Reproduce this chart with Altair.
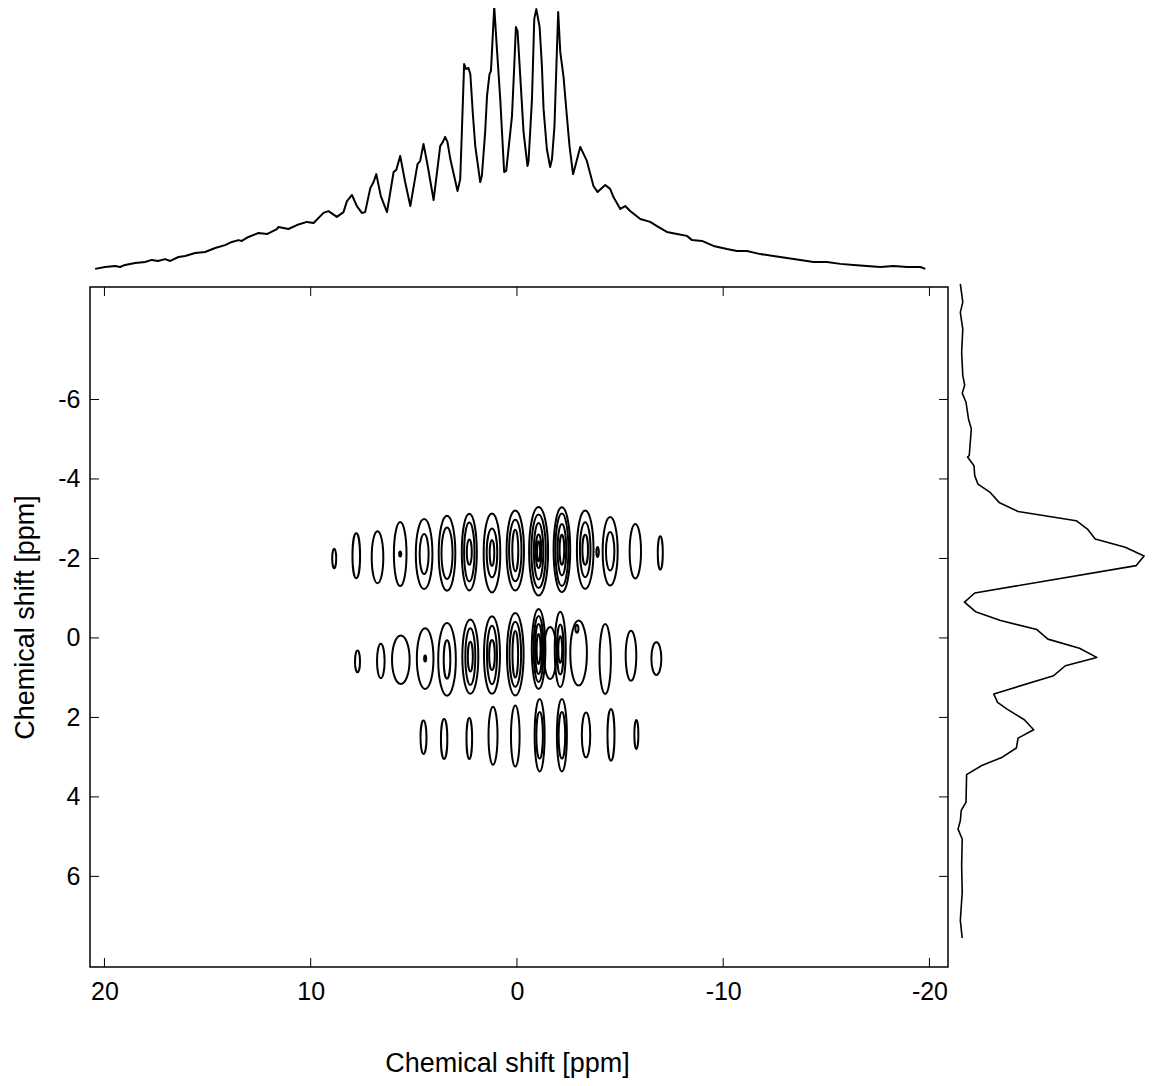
import altair as alt
import pandas as pd

# ---------------- data ----------------
# top projection (chemical shift in ppm, relative intensity)
top_ppm = [20.45, 19.97, 19.48, 19.24, 19.00, 18.51, 18.03, 17.70, 17.40, 17.06,
           16.81, 16.41, 16.09, 15.60, 15.12, 14.63, 14.15, 13.82, 13.50, 13.34,
           13.02, 12.53, 12.12, 11.64, 11.56, 11.08, 10.67, 10.18, 9.86, 9.38,
           9.14, 8.73, 8.41, 8.24, 8.00, 7.76, 7.52, 7.36, 7.11, 6.95,
           6.82, 6.60, 6.30, 5.98, 5.85, 5.66, 5.42, 5.17, 4.82, 4.69,
           4.53, 4.36, 4.04, 3.72, 3.59, 3.48, 3.37, 3.23, 2.88, 2.75,
           2.67, 2.56, 2.46, 2.35, 2.26, 2.13, 2.02, 1.78, 1.70, 1.54,
           1.45, 1.33, 1.26, 1.10, 0.97, 0.81, 0.68, 0.62, 0.52, 0.24,
           0.13, 0.05, -0.03, -0.16, -0.32, -0.51, -0.56, -0.73, -0.84, -0.94,
           -1.10, -1.21, -1.29, -1.45, -1.61, -1.70, -1.82, -1.94, -2.00, -2.10,
           -2.26, -2.42, -2.55, -2.72, -2.83, -3.07, -3.39, -3.71, -3.91, -4.28,
           -4.52, -4.68, -5.01, -5.25, -5.49, -5.98, -6.46, -6.79, -7.27, -7.76,
           -8.24, -8.49, -8.97, -9.53, -10.18, -10.67, -11.15, -11.80, -12.44, -13.09,
           -13.74, -14.38, -15.03, -15.68, -16.32, -16.97, -17.62, -18.26, -18.91, -19.56,
           -19.80]
top_int = [0.8, 1.5, 1.9, 1.5, 2.3, 3.0, 3.4, 4.2, 3.8, 4.5,
           3.8, 5.3, 5.7, 6.8, 7.2, 8.7, 9.8, 11.0, 11.7, 11.4,
           12.9, 14.4, 14.0, 15.9, 16.7, 15.9, 17.4, 18.6, 18.2, 22.0,
           22.7, 20.5, 22.3, 26.5, 28.8, 24.6, 22.0, 22.3, 31.4, 33.7,
           36.7, 28.4, 22.3, 37.5, 38.3, 43.6, 33.7, 24.6, 40.5, 41.7,
           48.1, 41.3, 26.9, 47.3, 48.9, 50.8, 48.9, 42.4, 30.3, 34.8,
           52.7, 78.4, 76.5, 76.9, 74.6, 58.7, 47.3, 33.7, 36.0, 52.7,
           66.3, 74.6, 75.8, 100.0, 84.1, 65.2, 46.2, 37.5, 37.9, 58.7,
           77.7, 92.4, 90.9, 73.9, 52.7, 39.8, 41.3, 65.2, 95.5, 99.2,
           92.4, 77.7, 61.4, 46.2, 39.4, 42.4, 54.9, 84.1, 98.1, 83.0,
           73.5, 58.7, 47.3, 36.7, 39.8, 47.0, 41.7, 32.2, 29.9, 32.6,
           31.1, 28.0, 23.5, 24.6, 22.7, 19.7, 18.6, 17.0, 14.8, 14.0,
           13.3, 11.7, 11.4, 9.5, 8.3, 7.6, 7.6, 6.4, 5.7, 4.9,
           4.2, 3.4, 3.4, 2.7, 2.3, 1.9, 1.5, 1.9, 1.5, 1.5,
           0.8]

# right projection (chemical shift in ppm, relative intensity)
side_ppm = [-8.91, -8.45, -8.19, -7.77, -7.19, -6.60, -6.36, -6.16, -5.93, -5.51,
            -5.26, -4.59, -4.55, -4.33, -4.08, -3.87, -3.67, -3.41, -3.18, -2.95,
            -2.74, -2.49, -2.28, -2.06, -1.82, -1.13, -0.90, -0.66, -0.44, -0.21,
            0.03, 0.26, 0.49, 0.70, 0.95, 1.41, 1.62, 1.79, 2.06, 2.31,
            2.52, 2.77, 3.00, 3.21, 3.44, 4.13, 4.34, 4.60, 4.81, 5.06,
            5.73, 6.40, 7.11, 7.55]
side_int = [2.8, 4.1, 2.8, 4.1, 3.5, 4.1, 5.1, 3.8, 5.8, 7.1,
            8.6, 7.5, 6.6, 10.0, 10.4, 12.1, 18.3, 23.2, 33.2, 63.8,
            69.7, 73.8, 89.6, 99.5, 95.4, 10.4, 5.0, 10.8, 24.0, 43.1,
            48.9, 65.5, 74.6, 58.1, 51.9, 20.4, 22.4, 27.4, 36.5, 41.4,
            33.2, 32.3, 24.9, 14.1, 6.1, 5.8, 3.3, 2.8, 1.6, 3.8,
            3.5, 3.8, 2.8, 3.8]

# contour lines: centre (ppm, ppm) and half-width / half-height (ppm)
cont_x = [8.86, 7.79, 6.76, 5.66, 5.66, 4.50, 4.50, 3.39, 3.39, 2.31, 2.31, 2.31,
          1.21, 1.21, 1.21, 0.08, 0.08, 0.08, -1.05, -1.05, -1.05, -1.05, -1.05,
          -2.18, -2.18, -2.18, -2.18, -3.31, -3.31, -3.31, -3.91, -4.52, -4.52, -5.74, -6.95,
          7.73, 6.60, 5.63, 4.45, 4.45, 3.39, 3.39, 2.26, 2.26, 2.26, 1.21, 1.21, 1.21,
          0.08, 0.08, 0.08, -1.05, -1.05, -1.05, -1.05, -1.61, -2.10, -2.10, -2.10,
          -2.99, -2.91, -4.28, -5.53, -6.76,
          4.53, 3.53, 2.31, 1.16, 0.08, -1.10, -1.10, -2.18, -2.18, -3.35, -4.56, -5.79]
cont_y = [-2.00, -2.07, -2.03, -2.11, -2.11, -2.11, -2.11, -2.13, -2.13, -2.16, -2.16, -2.16,
          -2.14, -2.14, -2.14, -2.20, -2.20, -2.20, -2.18, -2.18, -2.18, -2.18, -2.18,
          -2.22, -2.22, -2.22, -2.22, -2.22, -2.22, -2.22, -2.16, -2.18, -2.18, -2.18, -2.14,
          0.59, 0.58, 0.55, 0.52, 0.52, 0.54, 0.54, 0.47, 0.47, 0.47, 0.43, 0.43, 0.43,
          0.41, 0.41, 0.41, 0.28, 0.28, 0.28, 0.28, 0.38, 0.29, 0.29, 0.29,
          0.38, -0.23, 0.53, 0.45, 0.52,
          2.50, 2.54, 2.53, 2.46, 2.47, 2.45, 2.45, 2.45, 2.45, 2.44, 2.44, 2.43]
cont_hw = [0.097, 0.184, 0.281, 0.306, 0.05, 0.403, 0.218, 0.403, 0.267, 0.364, 0.252, 0.121,
           0.403, 0.257, 0.112, 0.422, 0.301, 0.145, 0.461, 0.349, 0.228, 0.136, 0.073,
           0.403, 0.315, 0.209, 0.112, 0.403, 0.257, 0.136, 0.058, 0.364, 0.204, 0.276, 0.121,
           0.121, 0.184, 0.427, 0.403, 0.05, 0.427, 0.160, 0.388, 0.242, 0.121, 0.388, 0.242, 0.136,
           0.403, 0.281, 0.136, 0.330, 0.242, 0.170, 0.097, 0.306, 0.267, 0.160, 0.097,
           0.403, 0.073, 0.276, 0.257, 0.242,
           0.145, 0.155, 0.136, 0.218, 0.209, 0.242, 0.160, 0.242, 0.160, 0.204, 0.170, 0.097]
cont_hh = [0.244, 0.566, 0.654, 0.805, 0.063, 0.881, 0.503, 0.943, 0.649, 0.964, 0.742, 0.319,
           0.994, 0.616, 0.327, 1.006, 0.775, 0.523, 1.112, 0.923, 0.712, 0.42, 0.252,
           1.069, 0.911, 0.649, 0.377, 0.986, 0.692, 0.377, 0.126, 0.860, 0.483, 0.684, 0.420,
           0.272, 0.433, 0.609, 0.762, 0.075, 0.913, 0.483, 0.936, 0.712, 0.377, 0.976, 0.735, 0.377,
           1.039, 0.818, 0.586, 1.006, 0.830, 0.629, 0.377, 0.654, 0.951, 0.629, 0.335,
           0.818, 0.101, 0.881, 0.629, 0.410,
           0.420, 0.503, 0.516, 0.730, 0.767, 0.911, 0.586, 0.911, 0.586, 0.566, 0.649, 0.365]

x_ticks = [20, 10, 0, -10, -20]
y_ticks = [-6, -4, -2, 0, 2, 4, 6]
axis_title = "Chemical shift [ppm]"

# ---------------- layout ----------------
W, H = 858, 680
TOP_H = 272
SIDE_W = 194
XD = [-20.90, 20.70]
YD = [-8.83, 8.28]
FONT = "Liberation Sans"
kx = W / (XD[1] - XD[0])
ky = H / (YD[1] - YD[0])


def ellipse_path(rx, ry):
    a = f"A{rx:.2f},{ry:.2f},0,0,1,"
    return (f"M0,{-ry:.2f}" + a + f"{rx:.2f},0" + a + f"0,{ry:.2f}"
            + a + f"{-rx:.2f},0" + a + f"0,{-ry:.2f}Z")


cont_df = pd.DataFrame({
    "x": cont_x,
    "y": cont_y,
    "shape": [ellipse_path(w * kx, h * ky) for w, h in zip(cont_hw, cont_hh)],
})
top_df = pd.DataFrame({"x": top_ppm, "i": top_int})
side_df = pd.DataFrame({"y": side_ppm, "i": side_int, "k": list(range(len(side_ppm)))})

xscale = alt.Scale(domain=XD, reverse=True, nice=False, zero=False)
yscale = alt.Scale(domain=YD, reverse=True, nice=False, zero=False)

xaxis = alt.Axis(values=x_ticks, ticks=False, tickSize=0, domain=False, grid=False,
                 labelFontSize=25, labelPadding=12, labelColor="black", labelFont=FONT,
                 labelExpr="'' + datum.value", labelOverlap=False, labelFlush=False,
                 title=axis_title, titleFontSize=27, titleFont=FONT,
                 titleFontWeight="normal", titleColor="black", titlePadding=46,
                 titleX=W / 2 - 12)
yaxis = alt.Axis(values=y_ticks, ticks=False, tickSize=0, domain=False, grid=False,
                 labelFontSize=25, labelPadding=10, labelColor="black", labelFont=FONT,
                 labelExpr="'' + datum.value", labelOverlap=False, labelFlush=False,
                 title=axis_title, titleFontSize=27, titleFont=FONT,
                 titleFontWeight="normal", titleColor="black", titlePadding=18,
                 titleY=H / 2 - 10)

X = alt.X("x:Q", scale=xscale, axis=xaxis)
Y = alt.Y("y:Q", scale=yscale, axis=yaxis)

contours = alt.Chart(cont_df).mark_point(
    filled=False, stroke="black", strokeWidth=2, opacity=1
).encode(
    x=X, y=Y,
    shape=alt.Shape("shape:N", scale=None),
    size=alt.value(4),
)

xt_df = pd.DataFrame({"x": x_ticks})
yt_df = pd.DataFrame({"y": y_ticks})
tick_b = alt.Chart(xt_df).mark_rule(color="black", strokeWidth=1).encode(
    x=X, y=alt.value(H), y2=alt.value(H - 9))
tick_t = alt.Chart(xt_df).mark_rule(color="black", strokeWidth=1).encode(
    x=X, y=alt.value(0), y2=alt.value(9))
tick_l = alt.Chart(yt_df).mark_rule(color="black", strokeWidth=1).encode(
    y=Y, x=alt.value(0), x2=alt.value(9))
tick_r = alt.Chart(yt_df).mark_rule(color="black", strokeWidth=1).encode(
    y=Y, x=alt.value(W), x2=alt.value(W - 9))
border = alt.Chart(pd.DataFrame({"a": [0]})).mark_rect(
    fillOpacity=0, stroke="black", strokeWidth=1.5
).encode(x=alt.value(0), x2=alt.value(W), y=alt.value(0), y2=alt.value(H))

main = alt.layer(contours, tick_b, tick_t, tick_l, tick_r, border).properties(
    width=W, height=H)

top = alt.Chart(top_df).mark_line(color="black", strokeWidth=2, strokeJoin="round").encode(
    x=alt.X("x:Q", scale=xscale, axis=None),
    y=alt.Y("i:Q", scale=alt.Scale(domain=[-3.03, 100], nice=False, zero=False), axis=None),
).properties(width=W, height=TOP_H)

side = alt.Chart(side_df).mark_line(color="black", strokeWidth=1.6, clip=False,
                                    strokeJoin="round").encode(
    x=alt.X("i:Q", scale=alt.Scale(domain=[-2.63, 99.47], nice=False, zero=False), axis=None),
    y=alt.Y("y:Q", scale=yscale, axis=None),
    order=alt.Order("k:Q"),
).properties(width=SIDE_W, height=H)

blank = alt.Chart(pd.DataFrame({"a": [0]})).mark_point(opacity=0, size=1).encode(
    x=alt.X("a:Q", axis=None), y=alt.Y("a:Q", axis=None)
).properties(width=SIDE_W, height=TOP_H)

chart = alt.concat(
    top, blank, main, side,
    columns=2, spacing={"row": 8, "column": 2}, bounds="flush", align="each",
).resolve_scale(
    x="independent", y="independent"
).configure(
    font=FONT, background="white",
    padding={"left": 3, "top": -2, "right": 0, "bottom": 2},
    view=alt.ViewConfig(stroke="transparent", strokeWidth=0),
)

chart.save("out.html", embed_options={"renderer": "svg", "actions": False})
